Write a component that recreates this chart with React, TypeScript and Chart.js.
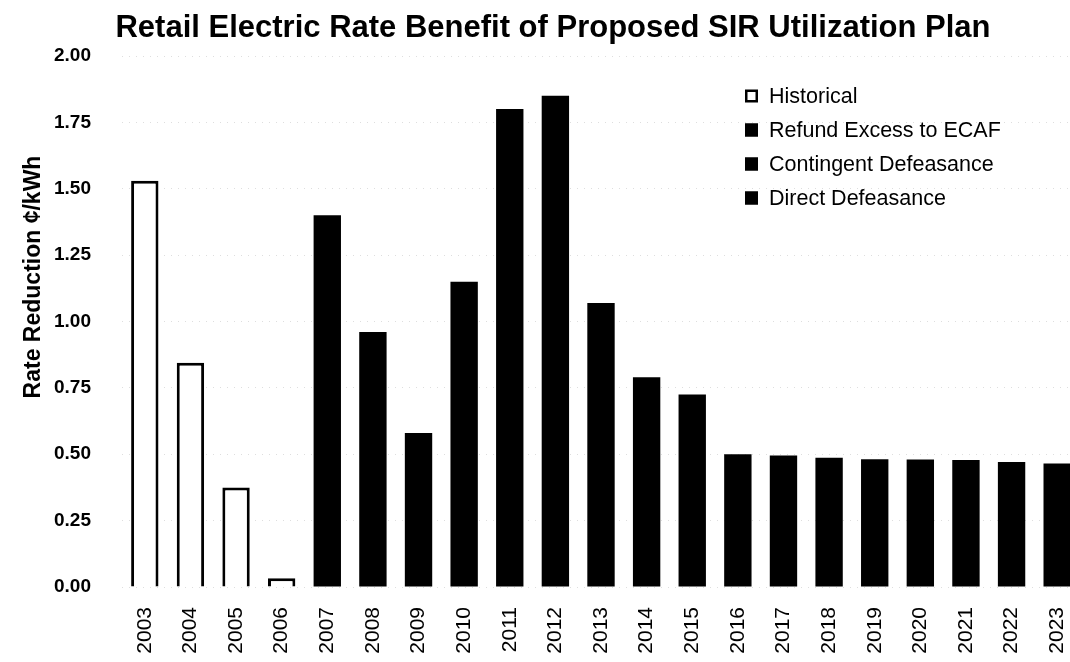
import { useEffect, useRef } from "react";
import { Chart, registerables } from "chart.js";

Chart.register(...registerables);

const years = [
  "2003", "2004", "2005", "2006", "2007", "2008", "2009", "2010", "2011", "2012", "2013",
  "2014", "2015", "2016", "2017", "2018", "2019", "2020", "2021", "2022", "2023",
];

const historical = [1.53, 0.845, 0.375, 0.033, null, null, null, null, null, null, null,
  null, null, null, null, null, null, null, null, null, null];

// The three plan components are all drawn in solid black and cannot be told apart,
// so the readable totals are carried by the "Direct Defeasance" series.
const refundExcess: (number | null)[] = [];
const contingentDefeasance: (number | null)[] = [];
const directDefeasance = [null, null, null, null, 1.40, 0.96, 0.58, 1.15, 1.80, 1.85, 1.07,
  0.79, 0.725, 0.50, 0.495, 0.487, 0.481, 0.48, 0.478, 0.471, 0.465];

const yTicks = [0, 0.25, 0.5, 0.75, 1.0, 1.25, 1.5, 1.75, 2.0];

const TITLE = "Retail Electric Rate Benefit of Proposed SIR Utilization Plan";
const Y_TITLE = "Rate Reduction \u00a2/kWh";
const FONT = "'Liberation Sans', Arial, Helvetica, sans-serif";

const titlePlugin = {
  id: "mainTitle",
  afterDraw(chart: any) {
    const ctx = chart.ctx;
    ctx.save();
    ctx.font = `bold 31px ${FONT}`;
    ctx.fillStyle = "#000";
    ctx.textAlign = "center";
    ctx.textBaseline = "middle";
    ctx.fillText(TITLE, 553, 28);
    ctx.restore();
  },
};

const yTitlePlugin = {
  id: "yTitle",
  afterDraw(chart: any) {
    const ctx = chart.ctx;
    ctx.save();
    ctx.translate(34, 277);
    ctx.rotate(-Math.PI / 2);
    ctx.font = `bold 23px ${FONT}`;
    ctx.fillStyle = "#000";
    ctx.textAlign = "center";
    ctx.textBaseline = "middle";
    ctx.fillText(Y_TITLE, 0, 0);
    ctx.restore();
  },
};

const legendPlugin = {
  id: "customLegend",
  afterDraw(chart: any) {
    const ctx = chart.ctx;
    ctx.save();
    chart.data.datasets.forEach((ds: any, i: number) => {
      const cy = 96 + i * 34;
      const bx = 745;
      const size = 13;
      ctx.fillStyle = ds.backgroundColor;
      ctx.fillRect(bx, cy - size / 2, size, size);
      ctx.lineWidth = 2.5;
      ctx.strokeStyle = "#000";
      ctx.strokeRect(bx + 1.25, cy - size / 2 + 1.25, size - 2.5, size - 2.5);
      ctx.fillStyle = "#000";
      ctx.font = `21.5px ${FONT}`;
      ctx.textAlign = "left";
      ctx.textBaseline = "middle";
      ctx.fillText(ds.label, 769, cy + 1);
    });
    ctx.restore();
  },
};

export default function App() {
  const canvasRef = useRef<HTMLCanvasElement | null>(null);

  useEffect(() => {
    if (!canvasRef.current) return;
    Chart.defaults.font.family = FONT;
    Chart.defaults.color = "#000";
    const chart = new Chart(canvasRef.current, {
      type: "bar",
      data: {
        labels: years,
        datasets: [
          {
            label: "Historical",
            data: historical,
            backgroundColor: "#ffffff",
            borderColor: "#000000",
            borderWidth: 3,
          },
          {
            label: "Refund Excess to ECAF",
            data: refundExcess,
            backgroundColor: "#000000",
            borderColor: "#000000",
            borderWidth: 0,
          },
          {
            label: "Contingent Defeasance",
            data: contingentDefeasance,
            backgroundColor: "#000000",
            borderColor: "#000000",
            borderWidth: 0,
          },
          {
            label: "Direct Defeasance",
            data: directDefeasance,
            backgroundColor: "#000000",
            borderColor: "#000000",
            borderWidth: 0,
          },
        ],
      },
      options: {
        responsive: false,
        animation: false,
        devicePixelRatio: 1,
        layout: { padding: { left: 0, right: 26, top: 56, bottom: 0 } },
        datasets: {
          bar: { categoryPercentage: 1, barPercentage: 0.6 },
        },
        plugins: {
          legend: { display: false },
          tooltip: { enabled: false },
          title: { display: false },
        },
        scales: {
          x: {
            stacked: true,
            grid: { display: false, drawTicks: false },
            border: { display: false },
            ticks: {
              color: "#000",
              font: { size: 21, family: FONT },
              minRotation: 90,
              maxRotation: 90,
              padding: 20,
              autoSkip: false,
            },
            afterFit(scale: any) {
              scale.height = 75;
            },
          },
          y: {
            stacked: true,
            min: 0,
            max: 2,
            grid: {
              display: true,
              color: "rgba(0,0,0,0.13)",
              lineWidth: 1,
              drawTicks: false,
            },
            border: { display: false, dash: [1, 6] },
            afterBuildTicks(scale: any) {
              scale.ticks = yTicks.map((v) => ({ value: v }));
            },
            ticks: {
              color: "#000",
              font: { size: 19, weight: "bold", family: FONT },
              padding: 31,
              callback: (v: any) => Number(v).toFixed(2),
            },
            afterFit(scale: any) {
              scale.width = 122;
            },
          },
        },
      },
      plugins: [titlePlugin, yTitlePlugin, legendPlugin],
    });
    return () => chart.destroy();
  }, []);

  return (
    <div
      style={{
        position: "fixed",
        left: 0,
        top: 0,
        width: 1070,
        height: 662,
        overflow: "hidden",
        background: "#fff",
      }}
    >
      <canvas ref={canvasRef} width={1106} height={662} style={{ display: "block" }} />
    </div>
  );
}
